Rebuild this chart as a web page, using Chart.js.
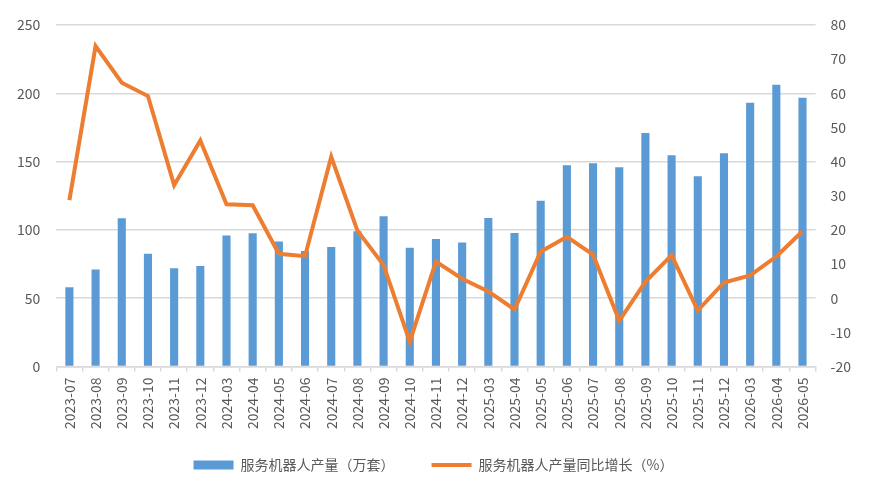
<!DOCTYPE html>
<html>
<head>
<meta charset="utf-8">
<script src="https://cdn.jsdelivr.net/npm/chart.js@4/dist/chart.umd.min.js"></script>
<style>
  html, body { margin: 0; padding: 0; background: #fff; }
  #wrap { width: 875px; height: 493px; }
</style>
</head>
<body>
<div id="wrap"><canvas id="c" width="875" height="493"></canvas></div>
<script>
var months = ['2023-07','2023-08','2023-09','2023-10','2023-11','2023-12',
  '2024-03','2024-04','2024-05','2024-06','2024-07','2024-08','2024-09','2024-10','2024-11','2024-12',
  '2025-03','2025-04','2025-05','2025-06','2025-07','2025-08','2025-09','2025-10','2025-11','2025-12',
  '2026-03','2026-04','2026-05'];
var output = [58, 71, 108.5, 82.5, 72, 73.5,
  96, 97.5, 91.5, 84.5, 87.5, 99, 110, 87, 93.3, 90.8,
  108.8, 97.7, 121.4, 147.3, 148.8, 145.8, 171, 154.7, 139.2, 156.2,
  193, 206.3, 196.8];
var growth = [28.7, 73.8, 63.1, 59.2, 33.1, 46.2,
  27.5, 27.2, 13, 12.3, 41.4, 19.8, 9.7, -12.7, 10.7, 5.7,
  2, -3.3, 13.6, 18, 12.8, -6.6, 4.8, 12.6, -3.6, 4.6,
  6.7, 12.2, 19.6];

var barColor = '#5b9bd5';
var lineColor = '#ed7d31';
var textColor = '#595959';
var gridColor = '#d9d9d9';
var font = 'Noto Sans CJK SC';

// legend sits a bit higher than chart.js would put it
var legendShift = {
  id: 'legendShift',
  afterLayout: function(chart) {
    chart.legend.top -= 14;
    chart.legend.bottom -= 14;
  }
};

new Chart(document.getElementById('c'), {
  data: {
    labels: months,
    datasets: [
      {
        type: 'line',
        label: '服务机器人产量同比增长（%）',
        data: growth,
        yAxisID: 'y1',
        borderColor: lineColor,
        backgroundColor: lineColor,
        borderWidth: 4,
        pointRadius: 0,
        tension: 0,
        order: 0
      },
      {
        type: 'bar',
        label: '服务机器人产量（万套）',
        data: output,
        yAxisID: 'y',
        backgroundColor: barColor,
        barPercentage: 0.31,
        categoryPercentage: 1,
        order: 1
      }
    ]
  },
  plugins: [legendShift],
  options: {
    responsive: false,
    animation: false,
    layout: { padding: { left: 1, right: 9, top: 25, bottom: -3 } },
    plugins: {
      tooltip: { enabled: false },
      legend: {
        position: 'bottom',
        reverse: true,
        labels: {
          color: textColor,
          font: { family: font, size: 14 },
          usePointStyle: true,
          pointStyleWidth: 40,
          boxHeight: 9,
          padding: 37,
          generateLabels: function(chart) {
            var items = Chart.defaults.plugins.legend.labels.generateLabels(chart);
            items.forEach(function(it) {
              if (it.datasetIndex === 0) {
                it.pointStyle = 'line';
                it.lineWidth = 4;
                it.strokeStyle = lineColor;
              } else {
                it.pointStyle = 'rect';
                it.lineWidth = 0;
                it.fillStyle = barColor;
              }
            });
            return items;
          }
        }
      }
    },
    scales: {
      x: {
        offset: true,
        grid: { display: true, drawOnChartArea: false, offset: true, color: gridColor, tickLength: 5, lineWidth: 1.5 },
        border: { display: true, color: gridColor, width: 1.5 },
        ticks: { color: textColor, font: { family: font, size: 14 }, minRotation: 90, maxRotation: 90, autoSkip: false, padding: 6 }
      },
      y: {
        position: 'left',
        min: 0, max: 250,
        ticks: { stepSize: 50, color: textColor, font: { family: font, size: 14 }, padding: 16 },
        grid: { color: gridColor, lineWidth: 1.5, drawTicks: false },
        border: { display: false }
      },
      y1: {
        position: 'right',
        min: -20, max: 80,
        ticks: { stepSize: 10, color: textColor, font: { family: font, size: 14 }, padding: 15 },
        grid: { display: false, drawTicks: false },
        border: { display: false }
      }
    }
  }
});
</script>
</body>
</html>
